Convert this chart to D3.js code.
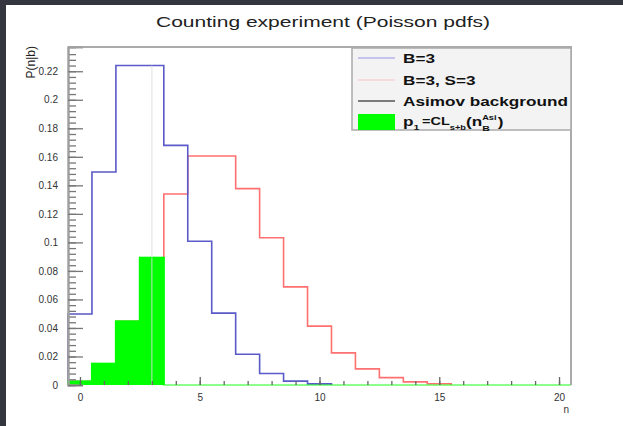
<!DOCTYPE html>
<html>
<head>
<meta charset="utf-8">
<script src="https://cdn.jsdelivr.net/npm/d3@7"></script>
<style>
  html, body { margin: 0; padding: 0; background: #33363e; overflow: hidden; }
  svg { display: block; }
  text { font-family: "Liberation Sans", Arial, sans-serif; }
</style>
</head>
<body>
<svg id="chart" width="623" height="426"></svg>
<script>
// Poisson probabilities, one value per integer count n (bin centred on n)
const bkgCounts = [0, 1, 2, 3, 4, 5, 6, 7, 8, 9, 10];
const bkgPdf = [0.0498, 0.1494, 0.2240, 0.2240, 0.1680, 0.1008, 0.0504, 0.0216, 0.0081, 0.0027, 0.0008];

const sigBkgCounts = [0, 1, 2, 3, 4, 5, 6, 7, 8, 9, 10, 11, 12, 13, 14, 15];
const sigBkgPdf = [0.0025, 0.0149, 0.0446, 0.0892, 0.1339, 0.1606, 0.1606, 0.1377, 0.1033, 0.0688,
                   0.0413, 0.0225, 0.0113, 0.0052, 0.0022, 0.0009];

// CL_{s+b} tail: the s+b pdf for n <= n_B^Asimov, zero elsewhere
const clsbCounts = [0, 1, 2, 3, 4, 5, 6, 7, 8, 9, 10, 11, 12, 13, 14, 15, 16, 17, 18, 19, 20];
const clsbPdf = [0.0025, 0.0149, 0.0446, 0.0892, 0, 0, 0, 0, 0, 0, 0, 0, 0, 0, 0, 0, 0, 0, 0, 0, 0];

const asimovN = 3;
const asimovTop = 0.2240;

const xMajorTicks = [0, 5, 10, 15, 20];
const xMinorTicks = d3.range(0, 21);
const yMajorTicks = [0, 0.02, 0.04, 0.06, 0.08, 0.1, 0.12, 0.14, 0.16, 0.18, 0.2, 0.22];
const yTickLabels = ["0", "0.02", "0.04", "0.06", "0.08", "0.1", "0.12", "0.14", "0.16", "0.18", "0.2", "0.22"];
const yMinorTicks = d3.range(0, 59).map(i => i * 0.004);

const chartTitle = "Counting experiment (Poisson pdfs)";
const xTitle = "n";
const yTitle = "P(n|b)";
const legendLabels = ["B=3", "B=3, S=3", "Asimov background"];

// the canvas text is rendered wide: glyphs are stretched horizontally
const textStretch = 1.32;

const svg = d3.select("#chart");

// canvas: white pad over dark surround
svg.append("rect").attr("x", 0).attr("y", 0).attr("width", 623).attr("height", 426).attr("fill", "#33363e");
svg.append("rect").attr("x", 6).attr("y", 5).attr("width", 617).attr("height", 421).attr("fill", "#ffffff");

const frame = { left: 68, right: 571, top: 47, bottom: 385 };

const x = d3.scaleLinear().domain([-0.5, 20.5]).range([frame.left, frame.right]);
const y = d3.scaleLinear().domain([0, 0.237]).range([frame.bottom, frame.top]);

// step outline of a histogram with unit-width bins centred on the counts
function stepPoints(counts, values) {
  const pts = [[counts[0] - 0.5, 0]];
  counts.forEach((n, i) => {
    pts.push([n - 0.5, values[i]]);
    pts.push([n + 0.5, values[i]]);
  });
  pts.push([counts[counts.length - 1] + 0.5, 0]);
  return pts;
}
const stepLine = d3.line().x(d => x(d[0])).y(d => y(d[1]));

// s+b pdf
svg.append("path")
  .attr("d", stepLine(stepPoints(sigBkgCounts, sigBkgPdf)))
  .attr("fill", "none").attr("stroke", "#ff7070").attr("stroke-width", 1.6);

// b pdf
svg.append("path")
  .attr("d", stepLine(stepPoints(bkgCounts, bkgPdf)))
  .attr("fill", "none").attr("stroke", "#5a5ac8").attr("stroke-width", 1.6);

// green filled CL_{s+b} region, drawn over the s+b outline
svg.append("g").selectAll("rect")
  .data(clsbCounts.map((n, i) => ({ n, v: clsbPdf[i] })).filter(d => d.v > 0))
  .join("rect")
  .attr("x", d => x(d.n - 0.5) - 1)
  .attr("width", d => x(d.n + 0.5) - x(d.n - 0.5) + 2)
  .attr("y", d => y(d.v) - 1)
  .attr("height", d => y(0) - y(d.v) + 1)
  .attr("fill", "#00ff00");

// Asimov background count
svg.append("line")
  .attr("x1", x(asimovN)).attr("x2", x(asimovN))
  .attr("y1", y(0)).attr("y2", y(asimovTop))
  .attr("stroke", "#dcdcdc").attr("stroke-opacity", 0.6).attr("stroke-width", 1.5);

// outline of the CL_{s+b} histogram (runs along zero beyond the tail)
svg.append("path")
  .attr("d", stepLine(stepPoints(clsbCounts, clsbPdf)))
  .attr("fill", "none").attr("stroke", "#00ff00").attr("stroke-opacity", 0.45).attr("stroke-width", 2);

// frame
svg.append("path")
  .attr("d", `M${frame.left},${frame.top}H${frame.right}V${frame.bottom}`)
  .attr("fill", "none").attr("stroke", "#aaaaaa").attr("stroke-width", 2);

// y axis: major ticks with labels, minor ticks inside the frame
const yAxisMajor = d3.axisLeft(y).tickValues(yMajorTicks)
  .tickFormat((d, i) => yTickLabels[i]).tickSize(-15).tickPadding(10);
const yAxisMinor = d3.axisLeft(y).tickValues(yMinorTicks).tickFormat("").tickSize(-8);

const gyMinor = svg.append("g").attr("transform", `translate(${frame.left},0)`).call(yAxisMinor);
const gy = svg.append("g").attr("transform", `translate(${frame.left},0)`).call(yAxisMajor);
[gy, gyMinor].forEach(g => {
  g.select(".domain").attr("stroke", "#a0a0a0").attr("stroke-width", 2);
  g.selectAll(".tick line").attr("stroke", "#777").attr("stroke-width", 1.3);
});
gy.selectAll(".tick text").attr("fill", "#333").attr("font-size", 10);

// x axis
const xAxisMajor = d3.axisBottom(x).tickValues(xMajorTicks).tickFormat(d3.format("d")).tickSize(-8).tickPadding(9);
const xAxisMinor = d3.axisBottom(x).tickValues(xMinorTicks).tickFormat("").tickSize(-4);
const gxMinor = svg.append("g").attr("transform", `translate(0,${frame.bottom})`).call(xAxisMinor);
const gx = svg.append("g").attr("transform", `translate(0,${frame.bottom})`).call(xAxisMajor);
[gx, gxMinor].forEach(g => {
  g.select(".domain").remove();
  g.selectAll(".tick line").attr("stroke", "#666").attr("stroke-width", 1.3);
});
gx.selectAll(".tick text").attr("fill", "#333").attr("font-size", 10);

// axis titles
svg.append("text")
  .attr("x", frame.right - 2).attr("y", 413)
  .attr("text-anchor", "end").attr("font-size", 10).attr("fill", "#333")
  .text(xTitle);
svg.append("text")
  .attr("transform", "translate(35,46) rotate(-90)")
  .attr("text-anchor", "end").attr("font-size", 12).attr("fill", "#222")
  .text(yTitle);

// title
svg.append("text")
  .attr("x", 156).attr("y", 27)
  .attr("font-size", 15).attr("fill", "#222")
  .attr("textLength", 334).attr("lengthAdjust", "spacingAndGlyphs")
  .text(chartTitle);

// legend
const legend = svg.append("g");
legend.append("rect")
  .attr("x", 352).attr("y", 48).attr("width", 219).attr("height", 82)
  .attr("fill", "#f3f3f3").attr("stroke", "#aaaaaa").attr("stroke-width", 1.5);

const legendRows = [58, 80, 101, 122];
const sampleX0 = 358, sampleX1 = 395, textX = 403;
const legendStrokes = ["#b4b4ea", "#f4d4d4", "#555555"];
legendLabels.forEach((label, i) => {
  legend.append("line")
    .attr("x1", sampleX0).attr("x2", sampleX1)
    .attr("y1", legendRows[i]).attr("y2", legendRows[i])
    .attr("stroke", legendStrokes[i]).attr("stroke-width", 1.6);
  legend.append("text")
    .attr("transform", `translate(${textX},${legendRows[i] + 5}) scale(${textStretch},1)`)
    .attr("font-size", 13).attr("font-weight", "bold").attr("fill", "#111")
    .text(label);
});
legend.append("rect")
  .attr("x", sampleX0).attr("y", legendRows[3] - 8)
  .attr("width", sampleX1 - sampleX0).attr("height", 16)
  .attr("fill", "#00ff00");

// p_1 = CL_{s+b}(n_B^{Asi})
const formula = legend.append("text")
  .attr("transform", `translate(${textX},${legendRows[3] + 4}) scale(${textStretch},1)`)
  .attr("font-size", 13).attr("font-weight", "bold").attr("fill", "#111");
formula.append("tspan").text("p");
formula.append("tspan").attr("dy", 4).attr("font-size", 8).text("1");
formula.append("tspan").attr("dx", 2).attr("dy", -5).attr("font-size", 11).text("=CL");
formula.append("tspan").attr("dy", 5).attr("font-size", 7).text("s+b");
formula.append("tspan").attr("dy", -4).text("(n");
formula.append("tspan").attr("dy", -6).attr("font-size", 7).text("Asi");
formula.append("tspan").attr("dx", -10.9).attr("dy", 11).attr("font-size", 8).text("B");
formula.append("tspan").attr("dx", 6).attr("dy", -5).text(")");
</script>
</body>
</html>
